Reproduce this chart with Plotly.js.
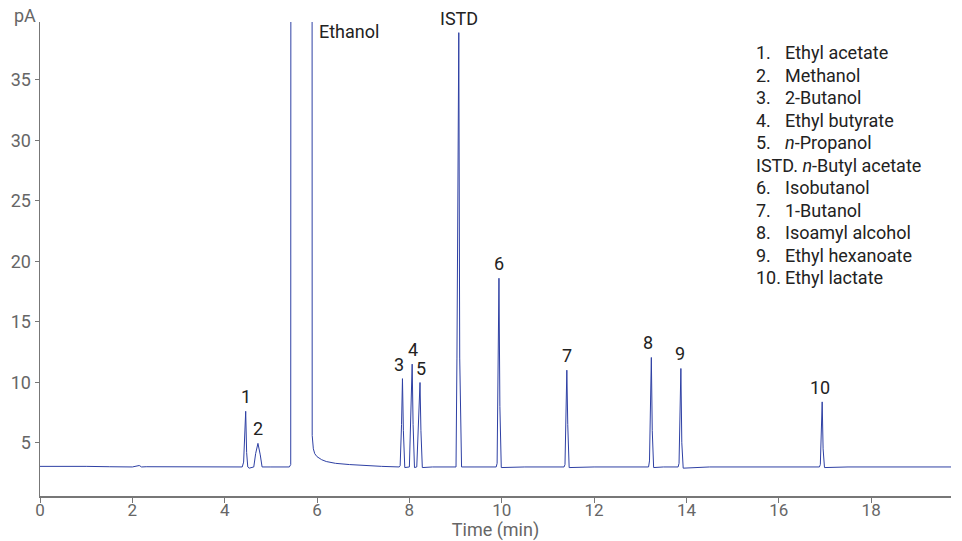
<!DOCTYPE html>
<html>
<head>
<meta charset="utf-8">
<script src="https://cdn.plot.ly/plotly-3.0.1.min.js"></script>
<style>html,body{margin:0;padding:0;background:#fff;}#chart{width:962px;height:541px;}</style>
</head>
<body>
<div id="chart"></div>
<script>
// Chromatogram trace (time in min, signal in pA)
const timeMin = [
  0.00, 0.50, 1.00, 1.50, 2.00, 2.15, 2.20, 2.30, 3.00, 3.50, 4.00, 4.38,
  4.41, 4.435, 4.455, 4.475, 4.50, 4.53,
  4.63, 4.67, 4.72, 4.77, 4.81, 5.00, 5.40,
  5.43, 5.445, 5.885, 5.895, 5.92, 5.95, 6.00, 6.10, 6.20, 6.40, 6.70, 7.00, 7.40, 7.78,
  7.80, 7.83, 7.85, 7.87, 7.90,
  8.00, 8.03, 8.06, 8.08, 8.11,
  8.16, 8.20, 8.23, 8.25, 8.28,
  8.50, 8.80, 9.01,
  9.03, 9.05, 9.07, 9.09, 9.13,
  9.40, 9.70, 9.88,
  9.90, 9.92, 9.94, 9.96, 9.99,
  10.50, 11.00, 11.35,
  11.37, 11.39, 11.41, 11.43, 11.46,
  12.00, 12.60, 13.18,
  13.20, 13.22, 13.24, 13.26, 13.29,
  13.50, 13.82,
  13.84, 13.86, 13.88, 13.90, 13.93,
  14.50, 15.00, 15.50, 16.00, 16.50, 16.88,
  16.90, 16.92, 16.94, 16.96, 16.99,
  17.50, 18.00, 18.50, 19.00, 19.73
];
const signalPA = [
  3.05, 3.08, 3.05, 3.02, 3.00, 3.12, 3.00, 3.02, 3.00, 3.00, 2.98, 3.00,
  3.40, 5.20, 7.60, 4.20, 3.00, 2.90,
  3.00, 4.10, 4.95, 4.00, 3.00, 3.00, 3.00,
  3.20, 200, 200, 5.60, 4.50, 4.10, 3.85, 3.60, 3.45, 3.30, 3.20, 3.12, 3.05, 3.00,
  3.10, 6.50, 10.30, 6.00, 2.95,
  3.00, 7.00, 11.50, 6.50, 2.95,
  3.00, 6.50, 9.98, 6.00, 2.95,
  3.00, 3.00, 3.00,
  12.00, 30.00, 38.90, 12.00, 3.00,
  3.00, 3.00, 3.00,
  3.30, 11.00, 18.60, 8.00, 2.95,
  3.00, 3.00, 3.00,
  3.20, 7.00, 11.00, 6.50, 2.95,
  3.00, 3.00, 3.00,
  3.50, 8.00, 12.05, 6.00, 2.95,
  3.00, 3.00,
  3.30, 7.50, 11.14, 5.00, 2.90,
  3.00, 3.00, 3.02, 3.00, 3.00, 3.00,
  3.20, 6.00, 8.38, 4.50, 2.95,
  3.00, 3.00, 3.00, 3.00, 3.00
];

// Peak labels
const peakLabels  = ["1", "2", "3", "4", "5", "6", "7", "8", "9", "10"];
const peakTimes   = [4.455, 4.72, 7.85, 8.06, 8.23, 9.94, 11.41, 13.24, 13.88, 16.94];
const peakHeights = [7.60, 4.95, 10.30, 11.50, 9.98, 18.60, 11.00, 12.05, 11.14, 8.38];
const peakXShift  = [0, 0, -3, 1, 1, 0, 0, -3, -1, -2];

// Legend of compounds
const compoundNums  = ["1.", "2.", "3.", "4.", "5.", "", "6.", "7.", "8.", "9.", "10."];
const compoundNames = ["Ethyl acetate", "Methanol", "2-Butanol", "Ethyl butyrate",
  "<i>n</i>-Propanol", "ISTD. <i>n</i>-Butyl acetate", "Isobutanol", "1-Butanol",
  "Isoamyl alcohol", "Ethyl hexanoate", "Ethyl lactate"];

// Axis ticks
const xTicks = [0, 2, 4, 6, 8, 10, 12, 14, 16, 18];
const yTicks = [5, 10, 15, 20, 25, 30, 35];

const FONT = "Roboto, 'Noto Sans', sans-serif";
const FS = 18;
const plotL = 40, plotR = 951, plotT = 22, plotB = 496;
const W = plotR - plotL, H = plotB - plotT;
const px = x => (x - plotL) / W;
const py = y => (plotB - y) / H;

const annotations = [];
peakLabels.forEach((lab, i) => {
  annotations.push({
    x: peakTimes[i], y: peakHeights[i], xref: "x", yref: "y",
    text: lab, showarrow: false, xanchor: "center", yanchor: "bottom",
    yshift: 2, xshift: peakXShift[i],
    font: {family: FONT, size: FS, color: "#222"}
  });
});
annotations.push({x: 6.0, y: py(32), xref: "x", yref: "paper", text: "Ethanol",
  showarrow: false, xanchor: "left", yanchor: "middle",
  font: {family: FONT, size: FS, color: "#222"}});
annotations.push({x: 9.07, y: py(18), xref: "x", yref: "paper", text: "ISTD",
  showarrow: false, xanchor: "center", yanchor: "middle",
  font: {family: FONT, size: FS, color: "#222"}});
annotations.push({x: px(25), y: py(16), xref: "paper", yref: "paper", text: "pA",
  showarrow: false, xanchor: "center", yanchor: "middle",
  font: {family: FONT, size: FS, color: "#666"}});

const rowTop = 53, rowGap = 22.45;
compoundNames.forEach((name, i) => {
  const yc = rowTop + i * rowGap;
  if (compoundNums[i] === "") {
    annotations.push({x: px(754), y: py(yc), xref: "paper", yref: "paper", text: name,
      showarrow: false, xanchor: "left", yanchor: "middle",
      font: {family: FONT, size: FS, color: "#222"}});
  } else {
    annotations.push({x: px(754), y: py(yc), xref: "paper", yref: "paper", text: compoundNums[i],
      showarrow: false, xanchor: "left", yanchor: "middle",
      font: {family: FONT, size: FS, color: "#222"}});
    annotations.push({x: px(783), y: py(yc), xref: "paper", yref: "paper", text: name,
      showarrow: false, xanchor: "left", yanchor: "middle",
      font: {family: FONT, size: FS, color: "#222"}});
  }
});

const trace = {
  x: timeMin, y: signalPA, type: "scatter", mode: "lines",
  line: {color: "#2e40a4", width: 1}, hoverinfo: "skip"
};

const layout = {
  width: 962, height: 541,
  margin: {l: plotL, r: 962 - plotR, t: plotT, b: 541 - plotB, pad: 0},
  paper_bgcolor: "#fff", plot_bgcolor: "#fff",
  showlegend: false,
  font: {family: FONT, size: FS, color: "#666"},
  xaxis: {
    range: [0, 19.73], tickvals: xTicks, ticktext: xTicks.map(String),
    showgrid: false, zeroline: false, showline: true, linecolor: "#777", linewidth: 1.5,
    ticks: "outside", ticklen: 5, tickcolor: "#777", tickwidth: 1,
    ticklabelstandoff: -7,
    tickfont: {family: FONT, size: 17, color: "#666"},
    title: {text: "Time (min)", font: {family: FONT, size: FS, color: "#666"}, standoff: 4}
  },
  yaxis: {
    range: [0.6, 39.78], tickvals: yTicks, ticktext: yTicks.map(String),
    showgrid: false, zeroline: false, showline: true, linecolor: "#777", linewidth: 1.5,
    ticks: "outside", ticklen: 4, tickcolor: "#777", tickwidth: 1,
    tickfont: {family: FONT, size: FS, color: "#666"}
  },
  annotations: annotations
};

Plotly.newPlot("chart", [trace], layout, {displayModeBar: false, staticPlot: true});
</script>
</body>
</html>
